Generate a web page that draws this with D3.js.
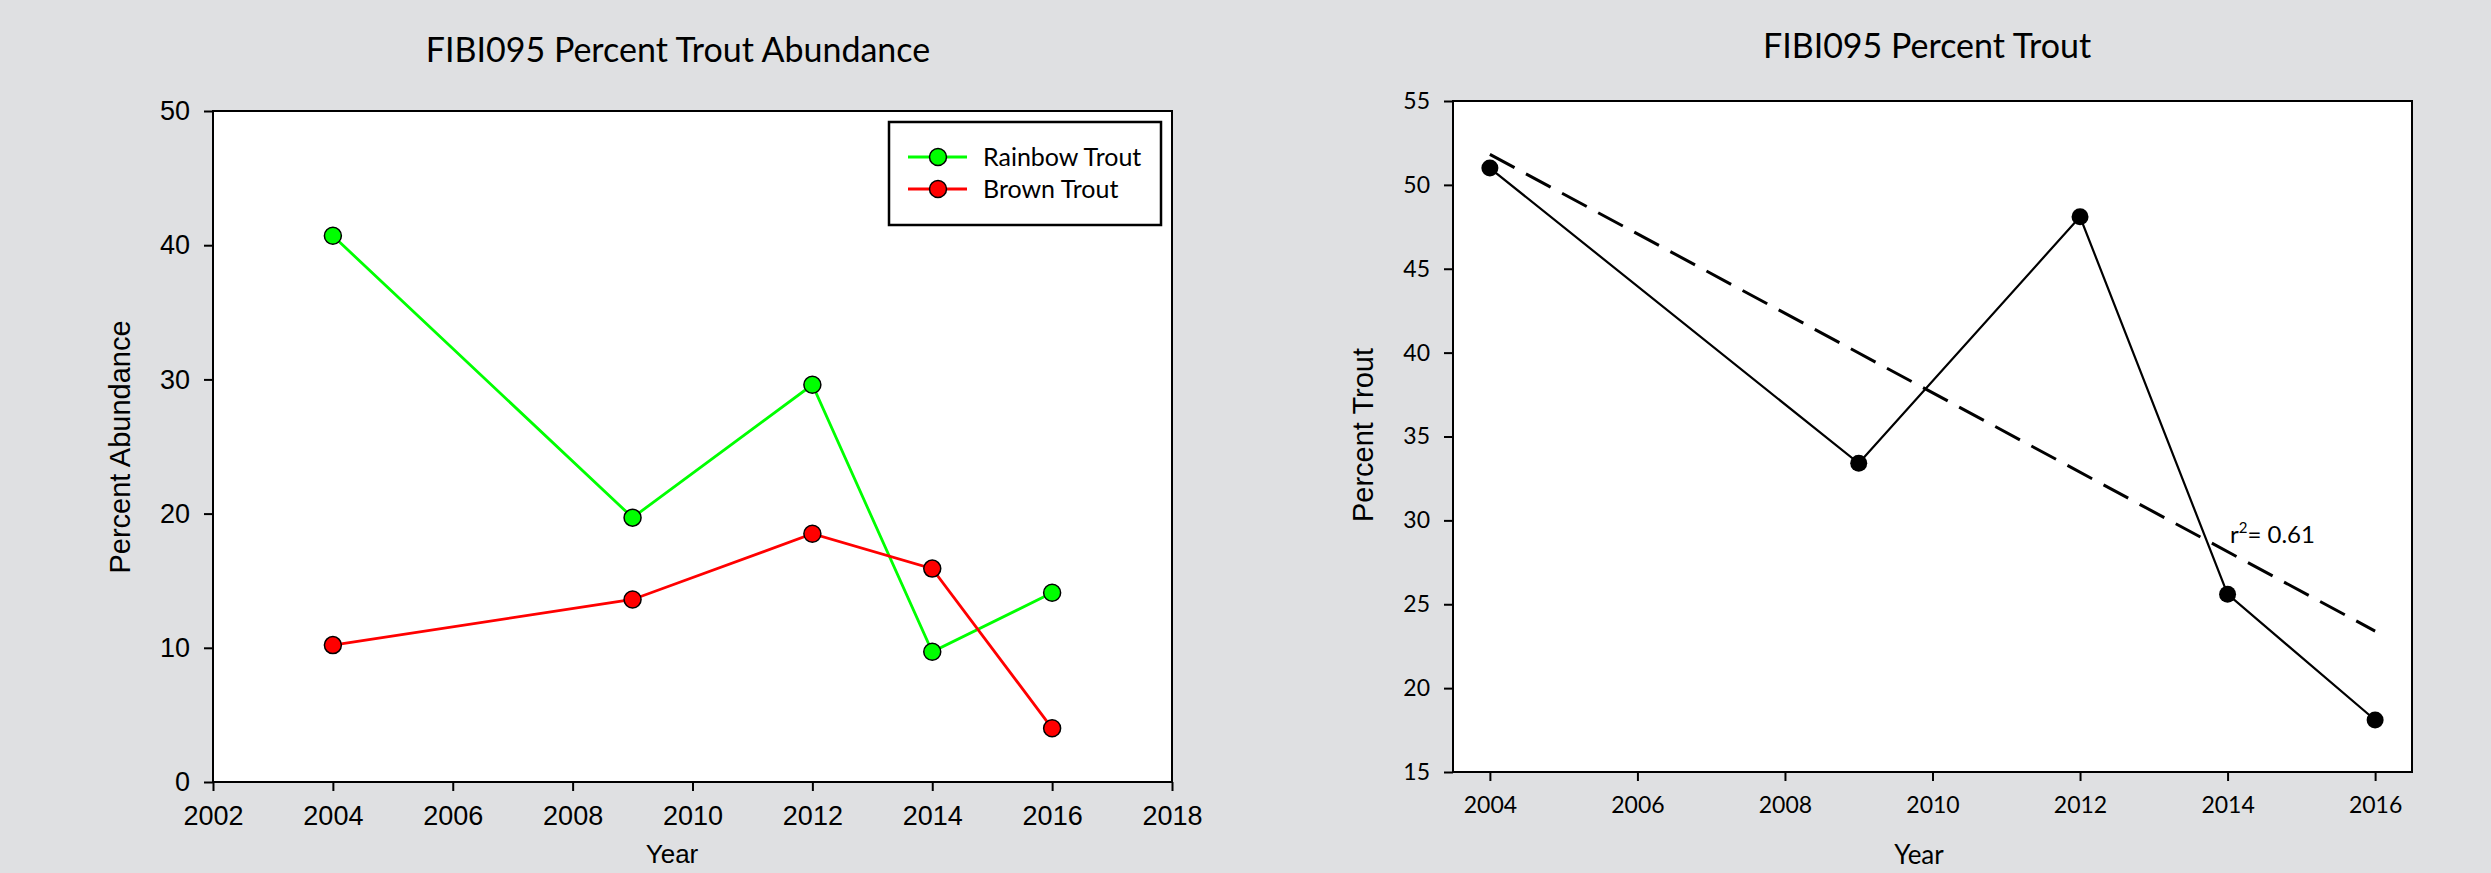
<!DOCTYPE html>
<html>
<head>
<meta charset="utf-8">
<script src="https://cdn.jsdelivr.net/npm/d3@7"></script>
<style>
  body { margin: 0; background: #dfe0e2; overflow: hidden; }
  .axis path { display: none; }
  .axis line { stroke: #000; stroke-width: 2; }
  .axis text { fill: #000; }
</style>
</head>
<body>
<div id="container"></div>
<script>
// Data
var years = [2004, 2009, 2012, 2014, 2016];
var rainbowTrout = [40.7, 19.7, 29.6, 9.7, 14.1];
var brownTrout = [10.2, 13.6, 18.5, 15.9, 4.0];
var percentTrout = [51.0, 33.4, 48.1, 25.6, 18.1];

var seriesNames = ['Rainbow Trout', 'Brown Trout'];
var seriesColors = ['#00ff00', '#ff0000'];

var leftXTicks = [2002, 2004, 2006, 2008, 2010, 2012, 2014, 2016, 2018];
var leftYTicks = [0, 10, 20, 30, 40, 50];
var rightXTicks = [2004, 2006, 2008, 2010, 2012, 2014, 2016];
var rightYTicks = [15, 20, 25, 30, 35, 40, 45, 50, 55];

var arial = '"Liberation Sans", Arial, sans-serif';
var calibri = 'Lato, "Open Sans", sans-serif';

var svg = d3.select('#container')
  .append('svg')
  .attr('width', 2491)
  .attr('height', 873);

// ---------- Left chart ----------
var x1 = d3.scaleLinear().domain([2002, 2018]).range([213, 1172]);
var y1 = d3.scaleLinear().domain([0, 50]).range([782, 111]);

svg.append('rect')
  .attr('x', x1(2002)).attr('y', y1(50))
  .attr('width', x1(2018) - x1(2002)).attr('height', y1(0) - y1(50))
  .attr('fill', '#fff').attr('stroke', '#000').attr('stroke-width', 2);

svg.append('g')
  .attr('class', 'axis')
  .attr('transform', `translate(0, ${y1(0)})`)
  .call(d3.axisBottom(x1).tickValues(leftXTicks).tickFormat(d3.format('d')).tickSize(9).tickPadding(15))
  .selectAll('text').style('font-family', arial).style('font-size', '27px');

svg.append('g')
  .attr('class', 'axis')
  .attr('transform', `translate(${x1(2002)}, 0)`)
  .call(d3.axisLeft(y1).tickValues(leftYTicks).tickSize(9).tickPadding(14))
  .selectAll('text').style('font-family', arial).style('font-size', '27px');

svg.append('text')
  .attr('x', 678).attr('y', 62)
  .attr('text-anchor', 'middle')
  .style('font-family', calibri).style('font-size', '34px')
  .text('FIBI095 Percent Trout Abundance');

svg.append('text')
  .attr('transform', 'translate(130, 447) rotate(-90)')
  .attr('text-anchor', 'middle')
  .style('font-family', arial).style('font-size', '29px')
  .text('Percent Abundance');

svg.append('text')
  .attr('x', 672).attr('y', 863)
  .attr('text-anchor', 'middle')
  .style('font-family', arial).style('font-size', '26px')
  .text('Year');

var line1 = d3.line()
  .x((d, i) => x1(years[i]))
  .y((d) => y1(d));

[rainbowTrout, brownTrout].forEach((values, s) => {
  svg.append('path')
    .datum(values)
    .attr('d', line1)
    .attr('fill', 'none')
    .attr('stroke', seriesColors[s])
    .attr('stroke-width', 2.8);

  svg.selectAll('.dot' + s)
    .data(values)
    .enter().append('circle')
    .attr('cx', (d, i) => x1(years[i]))
    .attr('cy', (d) => y1(d))
    .attr('r', 8.5)
    .attr('fill', seriesColors[s])
    .attr('stroke', '#000')
    .attr('stroke-width', 1.5);
});

// Legend
svg.append('rect')
  .attr('x', 889).attr('y', 122)
  .attr('width', 272).attr('height', 103)
  .attr('fill', '#fff').attr('stroke', '#000').attr('stroke-width', 2.5);

var legend = svg.selectAll('.legend')
  .data(seriesNames)
  .enter().append('g')
  .attr('class', 'legend')
  .attr('transform', (d, i) => `translate(0, ${157 + i * 32})`);

legend.append('line')
  .attr('x1', 908).attr('x2', 967)
  .attr('stroke', (d, i) => seriesColors[i])
  .attr('stroke-width', 2.8);

legend.append('circle')
  .attr('cx', 938).attr('r', 8.5)
  .attr('fill', (d, i) => seriesColors[i])
  .attr('stroke', '#000').attr('stroke-width', 1.5);

legend.append('text')
  .attr('x', 983).attr('dy', '0.35em')
  .style('font-family', calibri).style('font-size', '25px')
  .text((d) => d);

// ---------- Right chart ----------
var x2 = d3.scaleLinear().domain([2003.5, 2016.5]).range([1453, 2412]);
var y2 = d3.scaleLinear().domain([15, 55]).range([772, 101]);

svg.append('rect')
  .attr('x', x2(2003.5)).attr('y', y2(55))
  .attr('width', x2(2016.5) - x2(2003.5)).attr('height', y2(15) - y2(55))
  .attr('fill', '#fff').attr('stroke', '#000').attr('stroke-width', 2);

svg.append('g')
  .attr('class', 'axis')
  .attr('transform', `translate(0, ${y2(15)})`)
  .call(d3.axisBottom(x2).tickValues(rightXTicks).tickFormat(d3.format('d')).tickSize(9).tickPadding(16))
  .selectAll('text').style('font-family', calibri).style('font-size', '23px');

svg.append('g')
  .attr('class', 'axis')
  .attr('transform', `translate(${x2(2003.5)}, 0)`)
  .call(d3.axisLeft(y2).tickValues(rightYTicks).tickSize(9).tickPadding(14))
  .selectAll('text').style('font-family', calibri).style('font-size', '23px');

svg.append('text')
  .attr('x', 1927).attr('y', 58)
  .attr('text-anchor', 'middle')
  .style('font-family', calibri).style('font-size', '34px')
  .text('FIBI095 Percent Trout');

svg.append('text')
  .attr('transform', 'translate(1373, 435) rotate(-90)')
  .attr('text-anchor', 'middle')
  .style('font-family', arial).style('font-size', '29px')
  .text('Percent Trout');

svg.append('text')
  .attr('x', 1919).attr('y', 864)
  .attr('text-anchor', 'middle')
  .style('font-family', calibri).style('font-size', '26px')
  .text('Year');

// Linear regression trend
var n = years.length;
var mx = d3.mean(years);
var my = d3.mean(percentTrout);
var sxy = d3.sum(years, (d, i) => (d - mx) * (percentTrout[i] - my));
var sxx = d3.sum(years, (d) => (d - mx) * (d - mx));
var slope = sxy / sxx;
var trendYears = [years[0], years[n - 1]];

svg.append('path')
  .datum(trendYears)
  .attr('d', d3.line().x((d) => x2(d)).y((d) => y2(my + slope * (d - mx))))
  .attr('fill', 'none')
  .attr('stroke', '#000')
  .attr('stroke-width', 3)
  .attr('stroke-dasharray', '28,13');

svg.append('path')
  .datum(percentTrout)
  .attr('d', d3.line().x((d, i) => x2(years[i])).y((d) => y2(d)))
  .attr('fill', 'none')
  .attr('stroke', '#000')
  .attr('stroke-width', 2.2);

svg.selectAll('.tdot')
  .data(percentTrout)
  .enter().append('circle')
  .attr('cx', (d, i) => x2(years[i]))
  .attr('cy', (d) => y2(d))
  .attr('r', 8.5)
  .attr('fill', '#000');

var r2 = svg.append('text')
  .attr('x', 2230).attr('y', 543)
  .style('font-family', calibri).style('font-size', '24px');
r2.append('tspan').text('r');
r2.append('tspan').attr('dy', -10).style('font-size', '15px').text('2');
r2.append('tspan').attr('dy', 10).text('= 0.61');
</script>
</body>
</html>
